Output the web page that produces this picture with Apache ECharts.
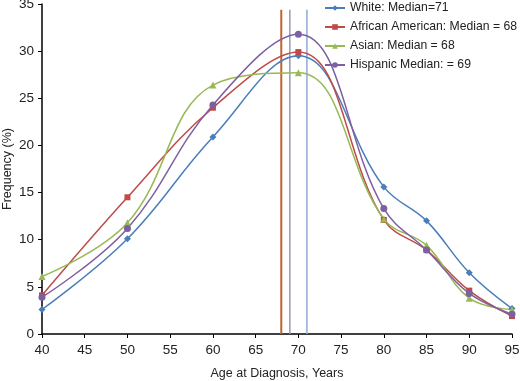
<!DOCTYPE html>
<html>
<head>
<meta charset="utf-8">
<script src="https://cdn.jsdelivr.net/npm/echarts@6/dist/echarts.min.js"></script>
<style>
  html, body { margin: 0; padding: 0; background: #fff; }
  #main { width: 520px; height: 381px; }
</style>
</head>
<body>
<div id="main"></div>
<script>
// ages (x values)
var ages = [40, 50, 60, 70, 80, 85, 90, 95];
// frequency (%) per group
var white    = [2.6, 10.1, 20.9, 29.5, 15.6, 12.0, 6.5, 2.7];
var african  = [4.1, 14.5, 24.0, 29.9, 12.1, 8.9, 4.6, 1.9];
var asian    = [6.1, 11.8, 26.4, 27.7, 12.2, 9.4, 3.8, 2.6];
var hispanic = [3.9, 11.2, 24.3, 31.8, 13.3, 8.9, 4.3, 2.1];
var names = ['White: Median=71', 'African American: Median = 68', 'Asian: Median = 68', 'Hispanic Median: = 69'];
// median lines
var medians = [68, 69, 71];
var medianTop = 34.4;

var chart = echarts.init(document.getElementById('main'));

function pairs(vals) {
    return ages.map(function (a, i) { return [a, vals[i]]; });
}

function curve(name, vals, color, symbol, size) {
    return {
        name: name,
        type: 'line',
        data: pairs(vals),
        smooth: 0.4,
        symbol: symbol,
        symbolSize: size,
        z: 3,
        lineStyle: { color: color, width: 1.5 },
        itemStyle: { color: color }
    };
}

function vline(x, color, w) {
    return {
        type: 'line',
        data: [[x, 0], [x, medianTop]],
        symbol: 'none',
        silent: true,
        z: 2,
        lineStyle: { color: color, width: w }
    };
}

var option = {
    backgroundColor: '#ffffff',
    animation: false,
    textStyle: { fontFamily: 'Liberation Sans, Arial, sans-serif' },
    grid: { left: 42, right: 8, top: 4, bottom: 47, outerBoundsMode: 'none', containLabel: false },
    legend: {
        data: names,
        orient: 'vertical',
        left: 324,
        top: 0,
        padding: 0,
        itemGap: 3,
        itemWidth: 20,
        itemHeight: 7,
        textStyle: { fontSize: 12.2, color: '#222', lineHeight: 16 }
    },
    xAxis: {
        type: 'value',
        min: 40,
        max: 95,
        interval: 5,
        name: 'Age at Diagnosis, Years',
        nameLocation: 'middle',
        nameGap: 33,
        nameMoveOverlap: false,
        nameTextStyle: { fontSize: 12.5, color: '#222' },
        axisLine: { lineStyle: { color: '#000', width: 1.5 } },
        axisTick: { length: 4, lineStyle: { color: '#000' } },
        axisLabel: { fontSize: 13.5, color: '#222', margin: 9 },
        splitLine: { show: false }
    },
    yAxis: {
        type: 'value',
        min: 0,
        max: 35,
        interval: 5,
        name: 'Frequency (%)',
        nameLocation: 'middle',
        nameGap: 28,
        nameMoveOverlap: false,
        nameTextStyle: { fontSize: 12.5, color: '#222' },
        axisLine: { show: true, lineStyle: { color: '#000', width: 1.5 } },
        axisTick: { show: true, length: 4, lineStyle: { color: '#000' } },
        axisLabel: { fontSize: 13.5, color: '#222', margin: 8 },
        splitLine: { show: false }
    },
    series: [
        vline(medians[0], '#c0632f', 2),
        vline(medians[1], '#9c96b8', 1.5),
        vline(medians[2], '#8eaad6', 1.5),
        curve(names[0], white, '#4a7ebb', 'diamond', 7),
        curve(names[1], african, '#be4b48', 'rect', 6),
        curve(names[2], asian, '#98b954', 'triangle', 7),
        curve(names[3], hispanic, '#7d60a0', 'circle', 7)
    ]
};
chart.setOption(option);
</script>
</body>
</html>
